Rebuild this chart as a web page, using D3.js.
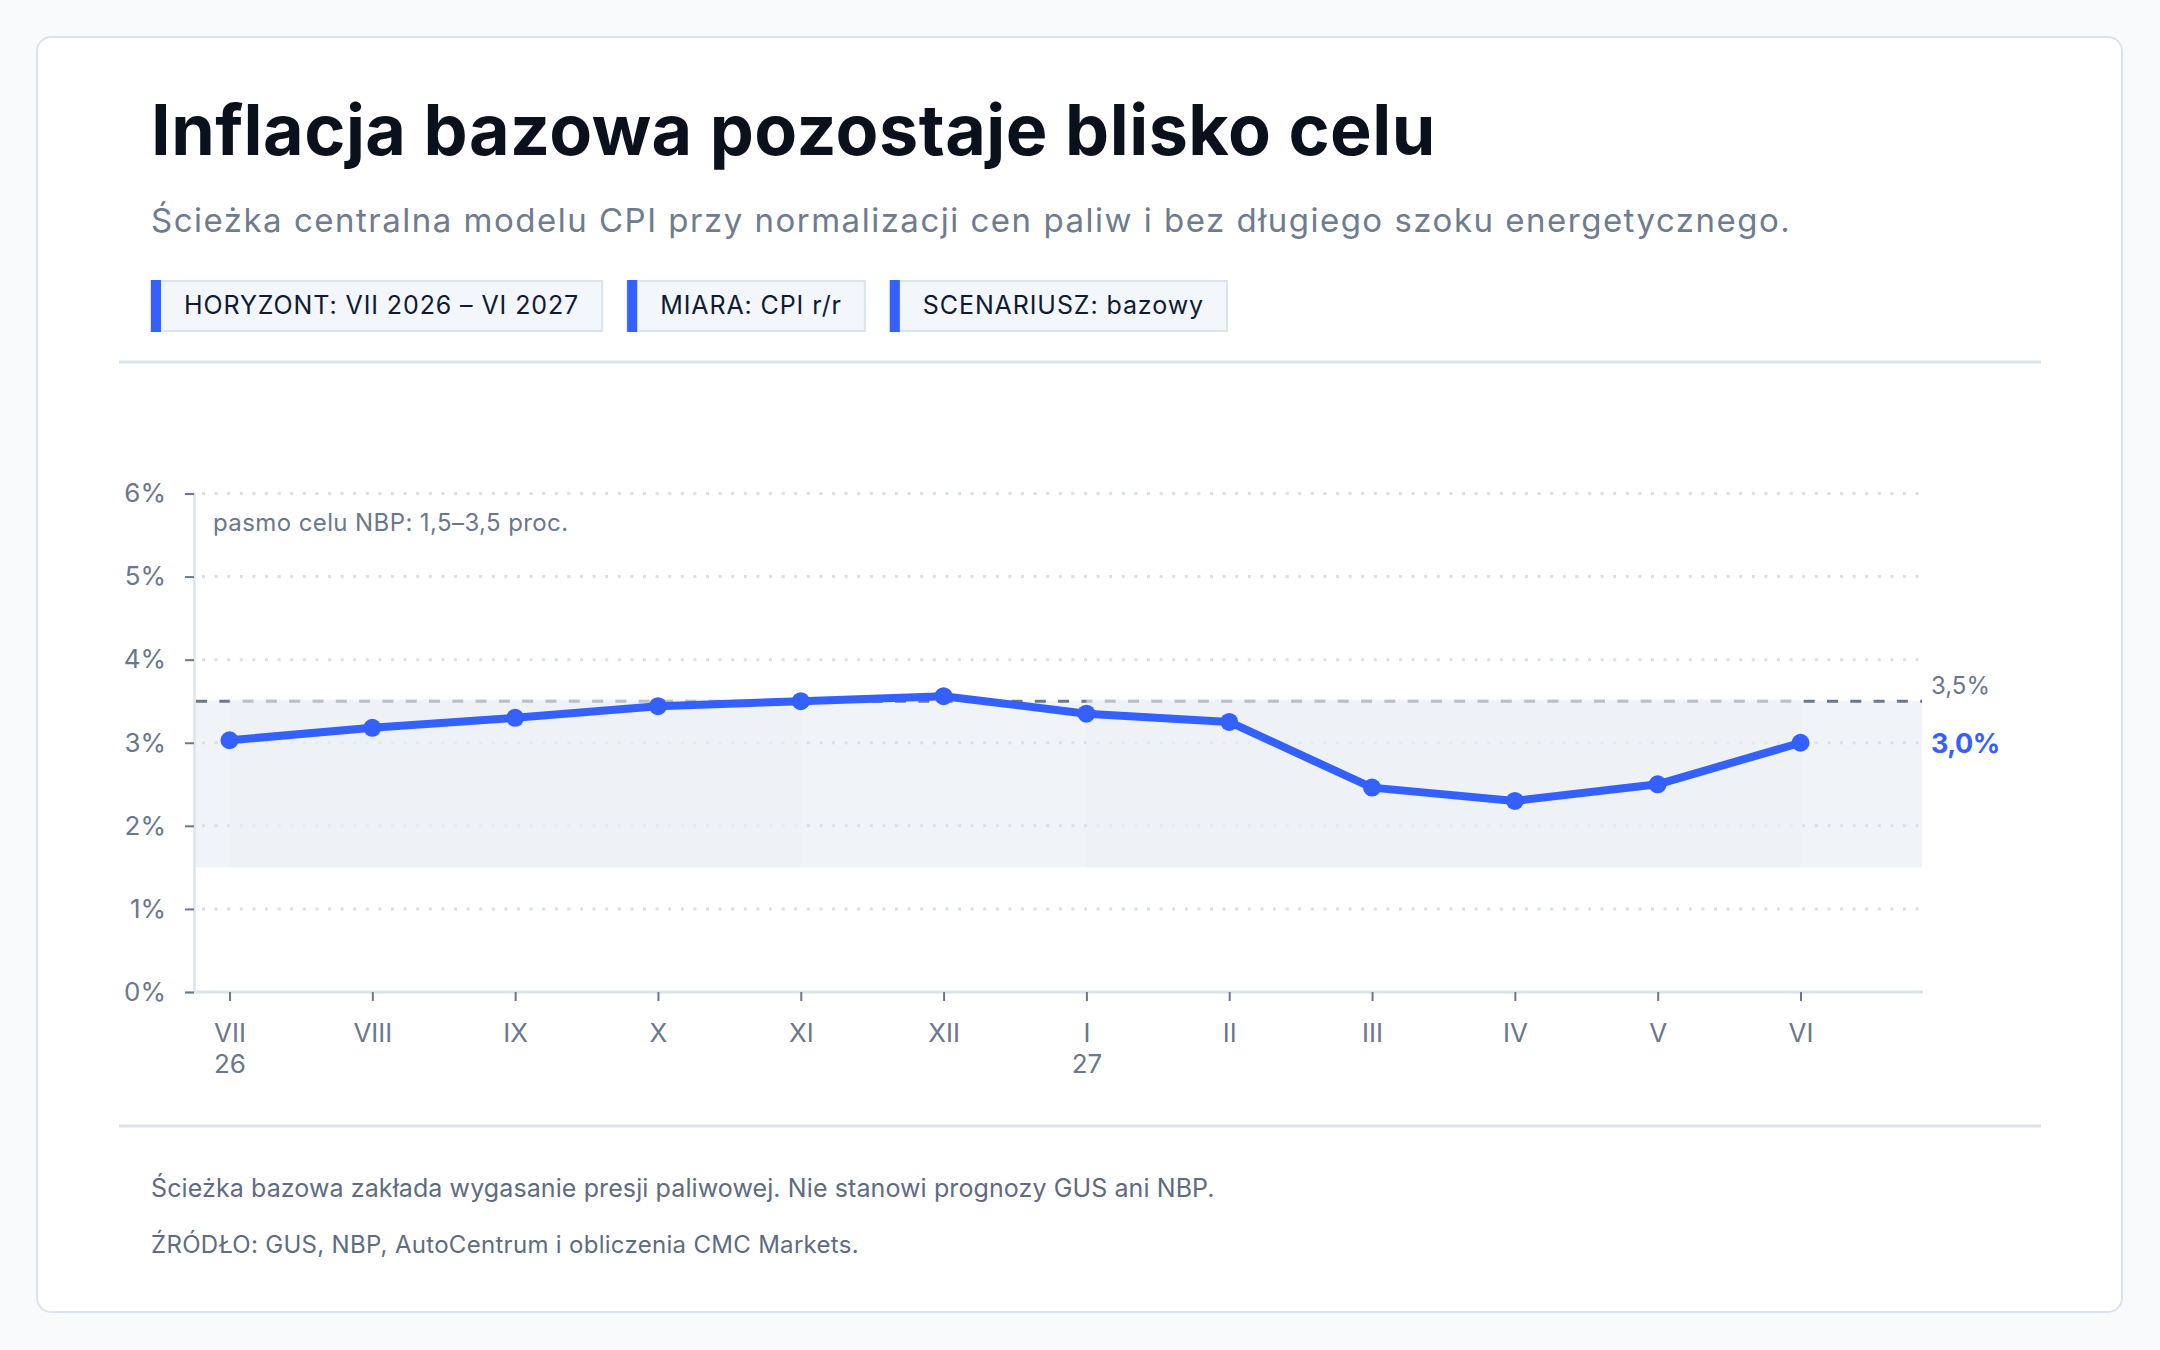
<!DOCTYPE html>
<html lang="pl">
<head>
<meta charset="utf-8">
<script src="https://cdn.jsdelivr.net/npm/d3@7"></script>
<style>
  html, body { margin: 0; padding: 0; background: #f8fafc; }
  body { width: 2160px; height: 1350px; overflow: hidden; }
  text { font-family: Inter, "Noto Sans", sans-serif; }
</style>
</head>
<body>
<div id="chart-container"></div>
<script>
// data
const months = ["VII", "VIII", "IX", "X", "XI", "XII", "I", "II", "III", "IV", "V", "VI"];
const yearLabels = ["26", "", "", "", "", "", "27", "", "", "", "", ""];
const cpiValues = [3.03, 3.18, 3.30, 3.44, 3.50, 3.56, 3.35, 3.25, 2.46, 2.30, 2.50, 3.00];
const yTicks = [0, 1, 2, 3, 4, 5, 6];
const bandLow = 1.5;
const bandHigh = 3.5;
const tags = ["HORYZONT: VII 2026 – VI 2027", "MIARA: CPI r/r", "SCENARIUSZ: bazowy"];

const title = "Inflacja bazowa pozostaje blisko celu";
const subtitle = "Ścieżka centralna modelu CPI przy normalizacji cen paliw i bez długiego szoku energetycznego.";
const bandNote = "pasmo celu NBP: 1,5–3,5 proc.";
const footNote = "Ścieżka bazowa zakłada wygasanie presji paliwowej. Nie stanowi prognozy GUS ani NBP.";
const source = "ŹRÓDŁO: GUS, NBP, AutoCentrum i obliczenia CMC Markets.";

const blue = "#3360ff";
const slate = "#6b778c";
const lineGrey = "#dce3ed";

const fmt = v => d3.format(".1f")(v).replace(".", ",") + "%";

const svg = d3.select("#chart-container")
    .append("svg")
    .attr("width", 2160)
    .attr("height", 1350);

// card
svg.append("rect")
    .attr("x", 37).attr("y", 37)
    .attr("width", 2085).attr("height", 1275)
    .attr("rx", 14)
    .attr("fill", "#ffffff")
    .attr("stroke", lineGrey)
    .attr("stroke-width", 2);

// header
svg.append("text")
    .attr("x", 151).attr("y", 155)
    .attr("font-size", 70)
    .attr("font-weight", 700)
    .attr("letter-spacing", "0.5px")
    .attr("fill", "#0a101c")
    .text(title);

svg.append("text")
    .attr("x", 151).attr("y", 232)
    .attr("font-size", 33)
    .attr("letter-spacing", "1.5px")
    .attr("fill", "#6f7b8f")
    .text(subtitle);

// tags
let tagX = 151;
tags.forEach(t => {
    const g = svg.append("g").attr("transform", "translate(" + tagX + ",281)");
    const bg = g.append("rect")
        .attr("y", 0).attr("height", 50)
        .attr("fill", "#f3f6fb")
        .attr("stroke", lineGrey)
        .attr("stroke-width", 2);
    const label = g.append("text")
        .attr("x", 33).attr("y", 33)
        .attr("font-size", 25)
        .attr("letter-spacing", "0.9px")
        .attr("fill", "#0f1b33")
        .text(t);
    const w = label.node().getComputedTextLength() + 56;
    bg.attr("x", 0).attr("width", w);
    g.append("rect")
        .attr("x", 0).attr("y", -1)
        .attr("width", 10).attr("height", 52)
        .attr("fill", blue);
    tagX += w + 25;
});

// dividers
[362, 1126].forEach(yy => {
    svg.append("line")
        .attr("x1", 119).attr("x2", 2041)
        .attr("y1", yy).attr("y2", yy)
        .attr("stroke", lineGrey)
        .attr("stroke-width", 3);
});

// chart
const plotLeft = 194, plotRight = 1922;
const x = d3.scalePoint().domain(months).range([229.5, 1800.5]);
const y = d3.scaleLinear().domain([0, 6]).range([992, 493.5]);
const data = months.map((m, i) => ({ m: m, yr: yearLabels[i], v: cpiValues[i] }));

const chart = svg.append("g");

// target band
chart.append("rect")
    .attr("x", plotLeft).attr("width", plotRight - plotLeft)
    .attr("y", y(bandHigh)).attr("height", y(bandLow) - y(bandHigh))
    .attr("fill", "#f0f3f8");

// dotted grid
chart.append("g")
    .selectAll("line")
    .data(yTicks.filter(d => d > 0))
    .enter()
    .append("line")
    .attr("x1", plotLeft + 8).attr("x2", plotRight)
    .attr("y1", d => y(d)).attr("y2", d => y(d))
    .attr("stroke", "#d9dfe8")
    .attr("stroke-width", 3)
    .attr("stroke-dasharray", "3 9.6");

// upper band edge
chart.append("line")
    .attr("x1", plotLeft + 2).attr("x2", plotRight)
    .attr("y1", y(bandHigh)).attr("y2", y(bandHigh))
    .attr("stroke", "#6b778c")
    .attr("stroke-width", 3)
    .attr("stroke-dasharray", "11 12.3");

// in-band shading where the path stays inside the band
const inBand = d3.area()
    .defined(d => d.v <= bandHigh)
    .x(d => x(d.m))
    .y0(y(bandLow))
    .y1(y(bandHigh) - 2);

chart.append("path")
    .datum(data)
    .attr("d", inBand)
    .attr("fill", "#edf1f6")
    .attr("fill-opacity", 0.6);

// axes
const yAxis = chart.append("g")
    .attr("transform", "translate(" + plotLeft + ",0)")
    .call(d3.axisLeft(y).tickValues(yTicks).tickSize(9).tickPadding(19).tickFormat(d => d + "%"));
yAxis.select(".domain").attr("stroke", lineGrey).attr("stroke-width", 2.5);
yAxis.selectAll(".tick line").attr("stroke", slate).attr("stroke-width", 2);
yAxis.selectAll(".tick text")
    .attr("font-size", 26).attr("font-family", "Inter").attr("fill", slate);

const xAxis = chart.append("g")
    .attr("transform", "translate(0,992)")
    .call(d3.axisBottom(x).tickSize(9).tickSizeOuter(0));
xAxis.select(".domain")
    .attr("d", "M" + plotLeft + ",0H" + (plotRight + 1))
    .attr("stroke", lineGrey).attr("stroke-width", 3);
xAxis.selectAll(".tick line").attr("stroke", slate).attr("stroke-width", 2);
xAxis.selectAll(".tick text").remove();
xAxis.selectAll(".tick").each(function (m, i) {
    const t = d3.select(this).append("text")
        .attr("text-anchor", "middle")
        .attr("font-size", 26)
        .attr("font-family", "Inter")
        .attr("fill", slate);
    t.append("tspan").attr("x", 0).attr("y", 50).text(m);
    if (yearLabels[i]) t.append("tspan").attr("x", 0).attr("y", 81).text(yearLabels[i]);
});

// note inside the plot
chart.append("text")
    .attr("x", 213).attr("y", 531)
    .attr("font-size", 24)
    .attr("letter-spacing", "0.4px")
    .attr("fill", slate)
    .text(bandNote);

// series
const line = d3.line().x(d => x(d.m)).y(d => y(d.v));
chart.append("path")
    .datum(data)
    .attr("d", line)
    .attr("fill", "none")
    .attr("stroke", blue)
    .attr("stroke-width", 8)
    .attr("stroke-linejoin", "round");

chart.selectAll(".dot")
    .data(data)
    .enter()
    .append("circle")
    .attr("class", "dot")
    .attr("cx", d => x(d.m))
    .attr("cy", d => y(d.v))
    .attr("r", 9)
    .attr("fill", blue);

// end labels
chart.append("text")
    .attr("x", 1931).attr("y", y(bandHigh) - 7)
    .attr("font-size", 24)
    .attr("fill", slate)
    .text(fmt(bandHigh));

const last = data[data.length - 1];
chart.append("text")
    .attr("x", 1931).attr("y", y(last.v) + 10)
    .attr("font-size", 27)
    .attr("font-weight", 700)
    .attr("letter-spacing", "-0.5px")
    .attr("fill", blue)
    .text(fmt(last.v));

// footer
svg.append("text")
    .attr("x", 151).attr("y", 1197)
    .attr("font-size", 25)
    .attr("letter-spacing", "0.1px")
    .attr("fill", "#5f6b80")
    .text(footNote);

svg.append("text")
    .attr("x", 151).attr("y", 1253)
    .attr("font-size", 24)
    .attr("letter-spacing", "0.3px")
    .attr("fill", "#5f6b80")
    .text(source);
</script>
</body>
</html>
